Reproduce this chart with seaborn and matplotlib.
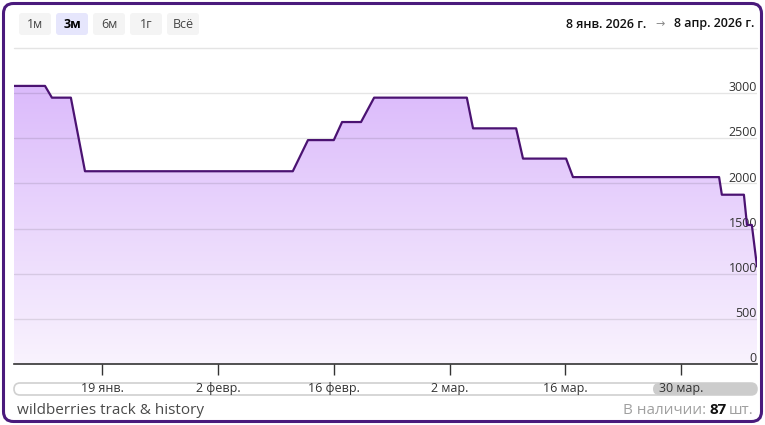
#wildberries stock history chart
import numpy as np
import pandas as pd
import matplotlib
matplotlib.use("Agg")
import matplotlib.pyplot as plt
import matplotlib.dates as mdates
import seaborn as sns
from matplotlib.patches import FancyBboxPatch
from matplotlib.transforms import IdentityTransform
from matplotlib.colors import LinearSegmentedColormap

#data
dates = ["2026-01-08 08:00", "2026-01-12 02:00", "2026-01-12 22:00", "2026-01-15 05:00",
         "2026-01-16 22:00", "2026-02-11 01:00", "2026-02-12 21:00", "2026-02-16 00:00",
         "2026-02-17 00:00", "2026-02-19 07:00", "2026-02-20 21:00", "2026-03-04 02:00",
         "2026-03-04 20:00", "2026-03-10 01:00", "2026-03-10 21:00", "2026-03-16 02:00",
         "2026-03-16 22:00", "2026-04-03 14:00", "2026-04-03 22:00", "2026-04-06 14:00",
         "2026-04-06 23:00", "2026-04-07 13:00", "2026-04-08 04:00"]
stock = [3080, 3080, 2950, 2950,
         2135, 2135, 2480, 2480,
         2680, 2680, 2950, 2950,
         2610, 2610, 2275, 2275,
         2070, 2070, 1875, 1875,
         1540, 1540, 1080]

tick_dates = ["2026-01-19", "2026-02-02", "2026-02-16", "2026-03-02", "2026-03-16", "2026-03-30"]
tick_labels = ["19 янв.", "2 февр.", "16 февр.", "2 мар.", "16 мар.", "30 мар."]
y_ticks = [0, 500, 1000, 1500, 2000, 2500, 3000]
periods = ["1м", "3м", "6м", "1г", "Всё"]
active_period = "3м"
x_range = ["2026-01-08 08:00", "2026-04-08 04:00"]

sns.set_theme(style="white")
plt.rcParams['font.family'] = ['Open Sans', 'DejaVu Sans']

W, H = 765, 425
fig = plt.figure(figsize=(W / 100, H / 100), dpi=100)
fig.patch.set_facecolor("white")
ax = fig.add_axes([14 / W, 1 - 364 / H, (757 - 14) / W, (364 - 48) / H])
ax.set_facecolor("white")

df = pd.DataFrame({"date": pd.to_datetime(dates), "stock": stock})
sns.lineplot(data=df, x="date", y="stock", color="#4b1372", lw=1.6, ax=ax, zorder=5)

#gradient fill under the line
poly = ax.fill_between(df["date"], df["stock"], 0, facecolor="none", lw=0)
xl = mdates.date2num(pd.to_datetime(x_range))
cmap = LinearSegmentedColormap.from_list("fill", ["#f9f3fe", "#dbbafb"])
grad = np.linspace(0, 1, 256).reshape(-1, 1)
im = ax.imshow(grad, extent=[xl[0], xl[1], 0, 3100], origin="lower", aspect="auto",
               cmap=cmap, zorder=1)
im.set_clip_path(poly.get_paths()[0], transform=ax.transData)

ax.set_xlim(xl[0], xl[1])
ax.set_ylim(0, 3500)

#grid + y labels inside on the right
for v in y_ticks[1:]:
    ax.axhline(v, color="black", alpha=0.1, lw=1, zorder=2)
ax.axhline(3500, color="#e4e4e4", lw=1, zorder=2, clip_on=False)
for v in y_ticks:
    ax.text(1.0, v - 12, str(v), transform=ax.get_yaxis_transform(), ha="right", va="bottom",
            fontsize=9, color="#333333", zorder=3)
ax.set_yticks([])

ax.set_xticks(mdates.date2num(pd.to_datetime(tick_dates)))
ax.set_xticklabels(tick_labels)
ax.tick_params(axis="x", bottom=True, length=8, width=1, color="#333333", pad=5,
               labelsize=9, labelcolor="#333333")
ax.set_xlabel("")
ax.set_ylabel("")
for s in ["top", "left", "right"]:
    ax.spines[s].set_visible(False)
ax.spines["bottom"].set_color("#333333")
ax.spines["bottom"].set_linewidth(1.2)

px = IdentityTransform()

#navigator bar
fig.add_artist(FancyBboxPatch((14, H - 395), 743, 12, boxstyle="round,pad=0,rounding_size=6",
                              transform=px, fc="white", ec="#d0d0d0", lw=1.2, zorder=-1))
fig.add_artist(FancyBboxPatch((653, H - 395), 104, 12, boxstyle="round,pad=0,rounding_size=6",
                              transform=px, fc="#cccccc", ec="none", zorder=-1))

#period buttons
for i, p in enumerate(periods):
    x0 = 19 + i * 37
    act = p == active_period
    fig.add_artist(FancyBboxPatch((x0, H - 35), 32, 22, boxstyle="round,pad=0,rounding_size=3",
                                  transform=px, fc="#e6e6fc" if act else "#f4f4f4", ec="none"))
    fig.text(x0 + 16, H - 24, p, transform=px, ha="center", va="center", fontsize=9,
             color="black" if act else "#444444", weight="bold" if act else "normal")

#date range
fig.text(646, H - 24, "8 янв. 2026 г.", transform=px, ha="right", va="center",
         fontsize=9, weight="semibold", color="#111111")
fig.text(660, H - 24, "→", transform=px, ha="center", va="center", fontsize=8,
         color="#888888", family=["DejaVu Sans"])
fig.text(754, H - 24, "8 апр. 2026 г.", transform=px, ha="right", va="center",
         fontsize=9, weight="semibold", color="#111111")

#footer
fig.text(17, H - 410, "wildberries track & history", transform=px, ha="left", va="center",
         fontsize=11, color="#4a4a4a")
renderer = fig.canvas.get_renderer()
x_right = 754
for s, kw in [("шт.", dict(color="#a0a0a0")),
              ("87", dict(color="#111111", weight="bold")),
              ("В наличии:", dict(color="#a0a0a0"))]:
    t = fig.text(x_right, H - 410, s, transform=px, ha="right", va="center", fontsize=11, **kw)
    x_right = t.get_window_extent(renderer).x0 - 3

#outer frame
fig.add_artist(FancyBboxPatch((3.5, 3.5), 758, 418, boxstyle="round,pad=0,rounding_size=10",
                              transform=px, fc="none", ec="#4a1a7c", lw=2.2, zorder=10))

fig.savefig("out.png", dpi=100)
